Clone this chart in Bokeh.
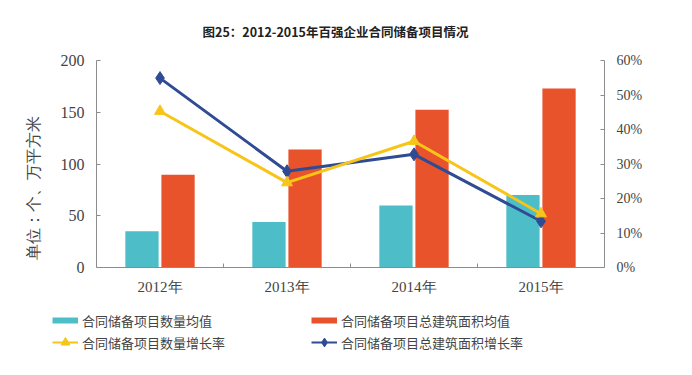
from bokeh.plotting import figure
from bokeh.layouts import column
from bokeh.models import (LinearAxis, Range1d, FixedTicker, NumeralTickFormatter,
                          Legend, LegendItem, ColumnDataSource)
from bokeh.embed import file_html
from bokeh.resources import INLINE

# ---- data ----
years = ["2012年", "2013年", "2014年", "2015年"]
count_avg = [35, 44, 60, 70]            # 合同储备项目数量均值 (个)
area_avg = [89.5, 114, 152.5, 173]      # 合同储备项目总建筑面积均值 (万平方米)
count_growth = [0.453, 0.246, 0.366, 0.156]  # 数量增长率
area_growth = [0.549, 0.279, 0.328, 0.134]   # 总建筑面积增长率

title_text = "图25：2012-2015年百强企业合同储备项目情况"
ylabel_text = "单位：个、万平方米"
legend_labels = ["合同储备项目数量均值", "合同储备项目总建筑面积均值",
                 "合同储备项目数量增长率", "合同储备项目总建筑面积增长率"]

TEAL = "#4DBEC8"
RED = "#E9532B"
YELLOW = "#F7C51A"
BLUE = "#2F4B94"
AXIS = "#8C8C8C"
TXT = "#444444"

idx = list(range(len(years)))
src = ColumnDataSource(dict(
    x=idx,
    xl=[i - 0.142 for i in idx],
    xr=[i + 0.142 for i in idx],
    count_avg=count_avg, area_avg=area_avg,
    count_growth=count_growth, area_growth=area_growth,
))

p = figure(width=690, height=300, output_backend="svg", toolbar_location=None,
           x_range=Range1d(-0.5, len(years) - 0.5), y_range=Range1d(0, 200),
           min_border_left=96, min_border_right=86, min_border_top=60,
           min_border_bottom=33)
p.frame_align = False
p.outline_line_color = None
p.xgrid.visible = False
p.ygrid.visible = False
p.background_fill_color = "white"
p.border_fill_color = "white"

p.title.text = title_text
p.title.align = "left"
p.title.offset = 106
p.title.vertical_align = "top"
p.title.text_font = "Noto Sans CJK SC"
p.title.text_font_style = "bold"
p.title.text_font_size = "12.5px"
p.title.text_color = "#222222"
p.title.standoff = 35

p.extra_y_ranges = {"pct": Range1d(0, 0.6)}

# bars
p.vbar(x="xl", top="count_avg", width=0.262, source=src, fill_color=TEAL, line_color=None)
p.vbar(x="xr", top="area_avg", width=0.262, source=src, fill_color=RED, line_color=None)

# lines
p.line("x", "area_growth", source=src, y_range_name="pct", line_color=BLUE, line_width=3)
p.scatter("x", "area_growth", source=src, y_range_name="pct", marker="diamond",
          size=13, fill_color=BLUE, line_color=BLUE)
p.line("x", "count_growth", source=src, y_range_name="pct", line_color=YELLOW, line_width=3)
p.scatter("x", "count_growth", source=src, y_range_name="pct", marker="triangle",
          size=11, fill_color=YELLOW, line_color=YELLOW)

# x axis
xa = p.xaxis[0]
xa.ticker = FixedTicker(ticks=idx, minor_ticks=[i + 0.5 for i in idx[:-1]])
xa.major_label_overrides = {i: y for i, y in zip(idx, years)}
xa.major_tick_in = 0
xa.major_tick_out = 0
xa.minor_tick_in = 4
xa.minor_tick_out = 0
xa.minor_tick_line_color = AXIS
xa.axis_line_color = AXIS
xa.major_label_standoff = 11
xa.major_label_text_font = "Liberation Serif"
xa.major_label_text_font_size = "15px"
xa.major_label_text_color = TXT

# left axis
ya = p.yaxis[0]
ya.ticker = FixedTicker(ticks=[0, 50, 100, 150, 200])
ya.major_tick_in = 4
ya.major_tick_out = 0
ya.minor_tick_line_color = None
ya.axis_line_color = AXIS
ya.major_tick_line_color = AXIS
ya.major_label_standoff = 12
ya.major_label_text_font = "Liberation Serif"
ya.major_label_text_font_size = "16px"
ya.major_label_text_color = TXT
ya.axis_label = ylabel_text + "\u3000\u3000\u3000"
ya.axis_label_standoff = 16
ya.axis_label_text_font = "Liberation Serif"
ya.axis_label_text_font_size = "16px"
ya.axis_label_text_font_style = "normal"
ya.axis_label_text_color = TXT

# right axis
ra = LinearAxis(y_range_name="pct", ticker=FixedTicker(ticks=[0, 0.1, 0.2, 0.3, 0.4, 0.5, 0.6]),
                formatter=NumeralTickFormatter(format="0%"))
ra.major_tick_in = 4
ra.major_tick_out = 0
ra.minor_tick_line_color = None
ra.axis_line_color = AXIS
ra.major_tick_line_color = AXIS
ra.major_label_standoff = 12
ra.major_label_text_font = "Liberation Serif"
ra.major_label_text_font_size = "14px"
ra.major_label_text_color = TXT
p.add_layout(ra, "right")

# ---- legend in a second, axis-less figure ----
lf = figure(width=690, height=72, output_backend="svg", toolbar_location=None,
            x_axis_type=None, y_axis_type=None, min_border=0,
            x_range=Range1d(0, 1), y_range=Range1d(0, 1))
lf.frame_align = False
lf.outline_line_color = None
lf.xgrid.visible = False
lf.ygrid.visible = False
lf.background_fill_color = "white"
lf.border_fill_color = "white"

# proxy renderers (their points lie outside the visible range)
proxy = ColumnDataSource(dict(x=[-10, -9], y=[-10, -10]))
lg_teal = lf.line("x", "y", source=proxy, line_color=TEAL, line_width=6)
lg_red = lf.line("x", "y", source=proxy, line_color=RED, line_width=6)
lg_yl = lf.line("x", "y", source=proxy, line_color=YELLOW, line_width=2)
lg_ys = lf.scatter("x", "y", source=proxy, marker="triangle", size=7, fill_color=YELLOW, line_color=YELLOW)
lg_bl = lf.line("x", "y", source=proxy, line_color=BLUE, line_width=2)
lg_bs = lf.scatter("x", "y", source=proxy, marker="diamond", size=8, fill_color=BLUE, line_color=BLUE)

legend = Legend(items=[
    LegendItem(label=legend_labels[0], renderers=[lg_teal]),
    LegendItem(label=legend_labels[1], renderers=[lg_red]),
    LegendItem(label=legend_labels[2], renderers=[lg_yl, lg_ys]),
    LegendItem(label=legend_labels[3], renderers=[lg_bl, lg_bs]),
], location=(52, 19), orientation="horizontal", ncols=2)
legend.margin = 0
legend.padding = 0
legend.spacing = 0
legend.border_line_color = None
legend.background_fill_alpha = 0
legend.glyph_width = 26
legend.glyph_height = 22
legend.label_height = 22
legend.label_width = 229
legend.label_standoff = 4
legend.label_text_font = "Noto Sans CJK SC"
legend.label_text_font_size = "13px"
legend.label_text_color = TXT
lf.add_layout(legend, "center")

layout = column(p, lf, spacing=0)
open("out.html", "w").write(file_html(layout, INLINE))
